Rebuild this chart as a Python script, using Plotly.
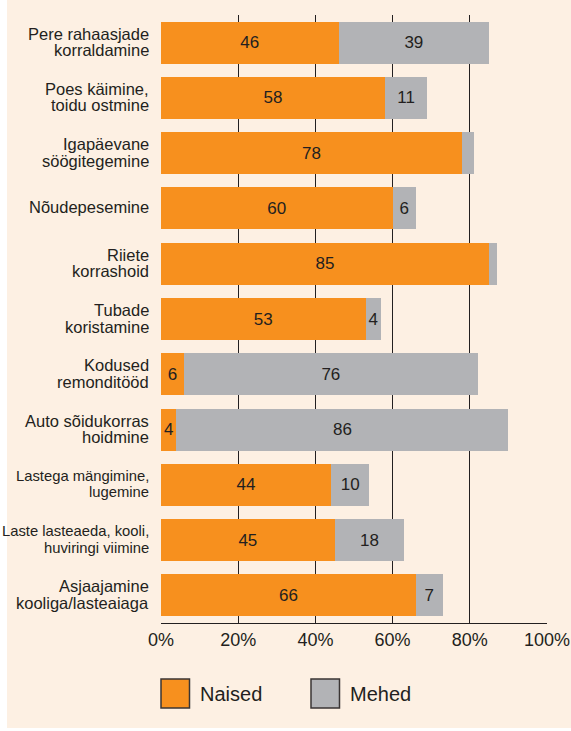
import plotly.graph_objects as go

# ---- data ----
categories = [
    "Pere rahaasjade\nkorraldamine",
    "Poes käimine,\ntoidu ostmine",
    "Igapäevane\nsöögitegemine",
    "Nõudepesemine",
    "Riiete\nkorrashoid",
    "Tubade\nkoristamine",
    "Kodused\nremonditööd",
    "Auto sõidukorras\nhoidmine",
    "Lastega mängimine,\nlugemine",
    "Laste lasteaeda, kooli,\nhuviringi viimine",
    "Asjaajamine\nkooliga/lasteaiaga",
]
naised = [46, 58, 78, 60, 85, 53, 6, 4, 44, 45, 66]
mehed = [39, 11, 3, 6, 2, 4, 76, 86, 10, 18, 7]
x_ticks = [0, 20, 40, 60, 80, 100]
x_tick_labels = ["0%", "20%", "40%", "60%", "80%", "100%"]
series_names = ["Naised", "Mehed"]

# ---- style ----
ORANGE = "#F7901E"
GRAY = "#B2B3B6"
CREAM = "#FDF0E3"
DARK = "#231F20"
FONT = "Liberation Sans, Arial, Helvetica, sans-serif"
narrow_idx = {8, 9}
MIN_LABEL = 4

cat_keys = [c.replace("\n", " ") for c in categories]

fig = go.Figure()
fig.add_trace(go.Bar(
    y=cat_keys, x=naised, orientation="h", name=series_names[0],
    marker=dict(color=ORANGE, line=dict(width=0)), width=0.76,
    text=[str(v) for v in naised], textposition="inside",
    insidetextanchor="middle", textangle=0,
    textfont=dict(family=FONT, size=17, color=DARK),
    showlegend=False, hoverinfo="skip",
))
fig.add_trace(go.Bar(
    y=cat_keys, x=mehed, orientation="h", name=series_names[1],
    marker=dict(color=GRAY, line=dict(width=0)), width=0.76,
    text=[str(v) if v >= MIN_LABEL else "" for v in mehed], textposition="inside",
    insidetextanchor="middle", textangle=0,
    textfont=dict(family=FONT, size=17, color=DARK),
    showlegend=False, hoverinfo="skip",
))

annotations = []
for i, (key, lab) in enumerate(zip(cat_keys, categories)):
    lines = lab.split("\n")
    size = 14.8 if i in narrow_idx else 16.5
    shifts = [1] if len(lines) == 1 else [9, -7.5]
    for ln, sh in zip(lines, shifts):
        annotations.append(dict(
            xref="paper", yref="y", x=0, y=key, text=ln, showarrow=False,
            xanchor="right", yanchor="middle", xshift=-10, yshift=sh,
            font=dict(family=FONT, size=size, color=DARK),
        ))

# legend (manual, large boxes)
leg_y = -0.116
for name, tx in [(series_names[0], 0.0959), (series_names[1], 0.4845)]:
    annotations.append(dict(
        xref="paper", yref="paper", x=tx, y=leg_y, text=name, showarrow=False,
        xanchor="left", yanchor="middle",
        font=dict(family=FONT, size=20, color=DARK),
    ))

shapes = [
    dict(type="rect", xref="paper", yref="paper", x0=-0.399, x1=1.2,
         y0=-0.1727, y1=1.1, fillcolor=CREAM, line=dict(width=0), layer="below"),
]
for xa, col in [(0.0, ORANGE), (0.3886, GRAY)]:
    shapes.append(dict(
        type="rect", xref="paper", yref="paper", xsizemode="pixel", ysizemode="pixel",
        xanchor=xa, yanchor=leg_y, x0=0, x1=28.5, y0=-14.5, y1=14.5,
        fillcolor=col, line=dict(color="#3A3534", width=1.5),
    ))

fig.update_layout(
    width=571, height=731, autosize=False,
    margin=dict(l=161, r=24, t=15, b=108, pad=0, autoexpand=False),
    paper_bgcolor="white", plot_bgcolor="rgba(0,0,0,0)",
    barmode="stack",
    uniformtext=dict(minsize=17, mode="show"),
    font=dict(family=FONT, color=DARK),
    xaxis=dict(
        range=[0, 100], tickmode="array", tickvals=x_ticks, ticktext=x_tick_labels,
        tickfont=dict(family=FONT, size=18, color=DARK),
        showgrid=True, gridcolor=DARK, gridwidth=1,
        showline=True, linecolor=DARK, linewidth=1,
        zeroline=False, ticks="", fixedrange=True, automargin=False,
    ),
    yaxis=dict(
        type="category", autorange="reversed", showticklabels=False,
        showgrid=False, zeroline=False, showline=False, ticks="",
        fixedrange=True, automargin=False,
    ),
    annotations=annotations, shapes=shapes, showlegend=False,
)

fig.write_html(
    "out.html",
    config={"displayModeBar": False},
    post_script="document.body.style.margin='0';document.body.style.overflow='hidden';",
)
